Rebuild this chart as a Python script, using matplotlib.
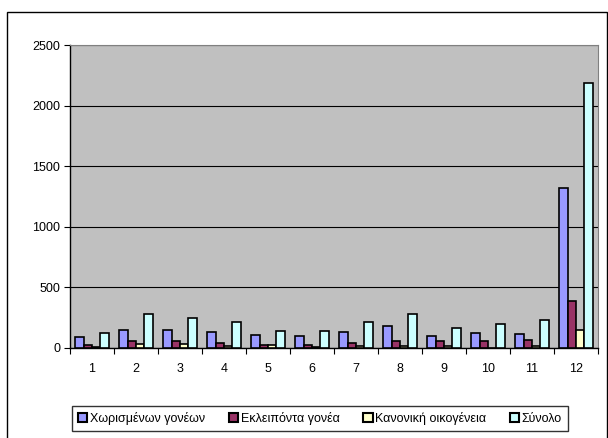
import matplotlib.pyplot as plt
import numpy as np
from matplotlib.patches import Rectangle

plt.rcParams['font.family'] = ['Liberation Sans', 'DejaVu Sans']

categories = ['1', '2', '3', '4', '5', '6', '7', '8', '9', '10', '11', '12']
series_names = ['Χωρισμένων γονέων', 'Εκλειπόντα γονέα', 'Κανονική οικογένεια', 'Σύνολο']
separated = [85, 145, 145, 129, 101, 99, 132, 178, 99, 118, 115, 1321]
deceased = [19, 55, 55, 38, 19, 19, 38, 55, 55, 55, 66, 385]
normal = [5, 33, 33, 10, 19, 5, 12, 12, 12, 0, 12, 145]
total = [118, 277, 244, 211, 134, 134, 209, 277, 165, 195, 228, 2183]
colors = ['#9999FF', '#993366', '#FFFFCC', '#CCFFFF']

W, H = 608, 438
fig = plt.figure(figsize=(W / 100, H / 100), dpi=100)
fig.patches.append(Rectangle((7 / W, -0.01), 600 / W, 1 - 12 / H + 0.01,
                             transform=fig.transFigure, fill=False,
                             edgecolor='black', linewidth=1))

# plot area in pixels
left, right, top, bottom = 70, 598, 45, 347.5
ax = fig.add_axes([left / W, 1 - bottom / H, (right - left) / W, (bottom - top) / H])
ax.set_facecolor('#C0C0C0')

x = np.arange(len(categories))
w = 0.19
for k, (vals, col, name) in enumerate(zip([separated, deceased, normal, total], colors, series_names)):
    ax.bar(x + (k - 1.5) * w, vals, width=w, color=col, edgecolor='black',
           linewidth=1.2, label=name, zorder=3)

ax.set_xlim(-0.5, len(categories) - 0.5)
ax.set_ylim(0, 2500)
ax.set_yticks(np.arange(0, 2501, 500))
ax.yaxis.grid(True, color='black', linewidth=0.8, zorder=1)
ax.set_axisbelow(True)

ax.set_xticks(x)
ax.set_xticklabels(categories, fontsize=9)
ax.set_xticks(np.arange(-0.5, len(categories)), minor=True)
ax.tick_params(axis='x', which='major', length=0, pad=11)
ax.tick_params(axis='x', which='minor', length=4, width=0.8, color='black')
ax.tick_params(axis='y', length=4, width=0.8, labelsize=9, pad=3)

for s in ['top', 'right']:
    ax.spines[s].set_color('#808080')
    ax.spines[s].set_linewidth(0.8)
for s in ['left', 'bottom']:
    ax.spines[s].set_color('black')
    ax.spines[s].set_linewidth(1)

leg = fig.legend(loc='center', bbox_to_anchor=(320 / W, 1 - 418.5 / H), ncol=4,
                 fontsize=9, frameon=True, fancybox=False, edgecolor='black',
                 handlelength=0.75, handleheight=0.75, handletextpad=0.2,
                 columnspacing=1.9, borderpad=0.5)
leg.get_frame().set_linewidth(1)
for h in leg.legend_handles:
    h.set_linewidth(1.5)

fig.savefig('out.png', dpi=100)
